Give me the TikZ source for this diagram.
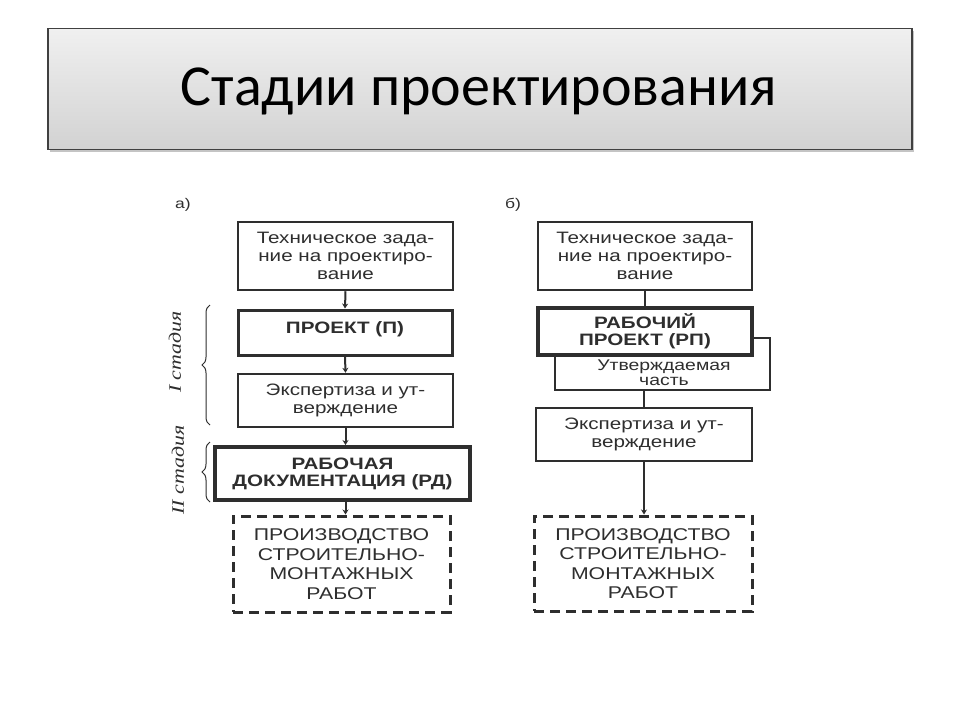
\documentclass[tikz,border=0pt]{standalone}
\usepackage{fontspec}
\setmainfont{Liberation Sans}
\newfontfamily\titlefont{Carlito}
\newfontfamily\scanfont[FakeStretch=1.25]{Liberation Sans}
\newfontfamily\stagefont[FakeStretch=1.25]{Liberation Serif}
\usetikzlibrary{decorations.pathreplacing,arrows.meta}
\definecolor{scanink}{HTML}{2E2E2E}
\definecolor{titleborder}{HTML}{404040}
\definecolor{titletop}{HTML}{F0F0F0}
\definecolor{titlebottom}{HTML}{D2D2D2}
\definecolor{shadowgray}{HTML}{C4C4C4}
\begin{document}
\begin{tikzpicture}[x=1pt,y=-1pt,
  box/.style={draw=scanink, line width=2.5pt, fill=white, align=center, inner sep=0pt,
    text=scanink, font=\scanfont\fontsize{16.5}{18}\selectfont},
  boldbox/.style={box, font=\scanfont\bfseries\fontsize{16.5}{17}\selectfont},
  thickbox/.style={boldbox, line width=4pt},
  workbox/.style={box, dash pattern=on 10pt off 6pt, line width=3pt,
    font=\scanfont\fontsize{17}{19.5}\selectfont},
  conn/.style={draw=scanink, line width=2pt},
  arr/.style={conn, -{Stealth[length=5pt,width=6pt]}},
  stagebrace/.style={draw=scanink, line width=1pt, decorate,
    decoration={brace, amplitude=8pt}},
  stagelabel/.style={rotate=90, text=scanink, font=\stagefont\itshape\fontsize{17.5}{18}\selectfont},
  partlabel/.style={text=scanink, font=\scanfont\fontsize{14}{15}\selectfont}
]
\useasboundingbox (0,0) rectangle (960,720);
\fill[white] (0,0) rectangle (960,720);

% title
\fill[shadowgray] (50,31) rectangle (914,152);
\node (title) [draw=titleborder, line width=1.5pt, top color=titletop, bottom color=titlebottom,
  minimum width=864pt, minimum height=121pt, inner sep=0pt] at (480,89) {};
\node (titletext) [anchor=base, font=\titlefont\fontsize{58}{70}\selectfont] at (479,105) {Стадии проектирования};

% part a
\node (la) [partlabel] at (183,205) {а)};
\node (a1) [box, minimum width=215pt, minimum height=68pt] at (345.5,256)
  {Техническое зада-\\ние на проектиро-\\вание};
\node (a2) [boldbox, line width=3pt, minimum width=214pt, minimum height=45pt, text depth=9pt] at (345,332.5)
  {ПРОЕКТ (П)};
\node (a3) [box, minimum width=215pt, minimum height=53pt] at (345.5,400.5)
  {Экспертиза и ут-\\верждение};
\node (a4) [thickbox, minimum width=255pt, minimum height=53pt] at (342.5,473.5)
  {РАБОЧАЯ\\ДОКУМЕНТАЦИЯ (РД)};
\node (a5) [workbox, minimum width=217pt, minimum height=96pt] at (341.5,564)
  {ПРОИЗВОДСТВО\\СТРОИТЕЛЬНО-\\МОНТАЖНЫХ\\РАБОТ};

\draw[arr] (a1.south) -- (a2.north);
\draw[arr] (a2.south) -- (a3.north);
\draw[arr] (a3.south) -- (a3.south |- a4.north);
\draw[arr] (a3.south |- a4.south) -- (a3.south |- a5.north);

\draw[stagebrace] (210,425) -- (210,305);
\draw[stagebrace] (210,502) -- (210,442);
\node (st1) [stagelabel] at (175,352) {I стадия};
\node (st2) [stagelabel] at (178,470) {II стадия};

% part b
\node (lb) [partlabel] at (513,205) {б)};
\node (b1) [box, minimum width=214pt, minimum height=68pt] at (645,256)
  {Техническое зада-\\ние на проектиро-\\вание};
\node (bu) [box, minimum width=215pt, minimum height=52pt] at (662.5,364) {};
\node (butext) [text=scanink, align=center, font=\scanfont\fontsize{15.5}{15}\selectfont] at (664,373)
  {Утверждаемая\\часть};
\node (b2) [thickbox, minimum width=214pt, minimum height=47pt] at (645,331.5)
  {РАБОЧИЙ\\ПРОЕКТ (РП)};
\node (b3) [box, minimum width=216pt, minimum height=53pt] at (644,434.5)
  {Экспертиза и ут-\\верждение};
\node (b5) [workbox, minimum width=218pt, minimum height=95pt] at (643,563.5)
  {ПРОИЗВОДСТВО\\СТРОИТЕЛЬНО-\\МОНТАЖНЫХ\\РАБОТ};

\draw[conn] (b1.south) -- (b1.south |- b2.north);
\draw[conn] (b3.north |- bu.south) -- (b3.north);
\draw[arr] (b3.south) -- (b3.south |- b5.north);
\end{tikzpicture}
\end{document}
